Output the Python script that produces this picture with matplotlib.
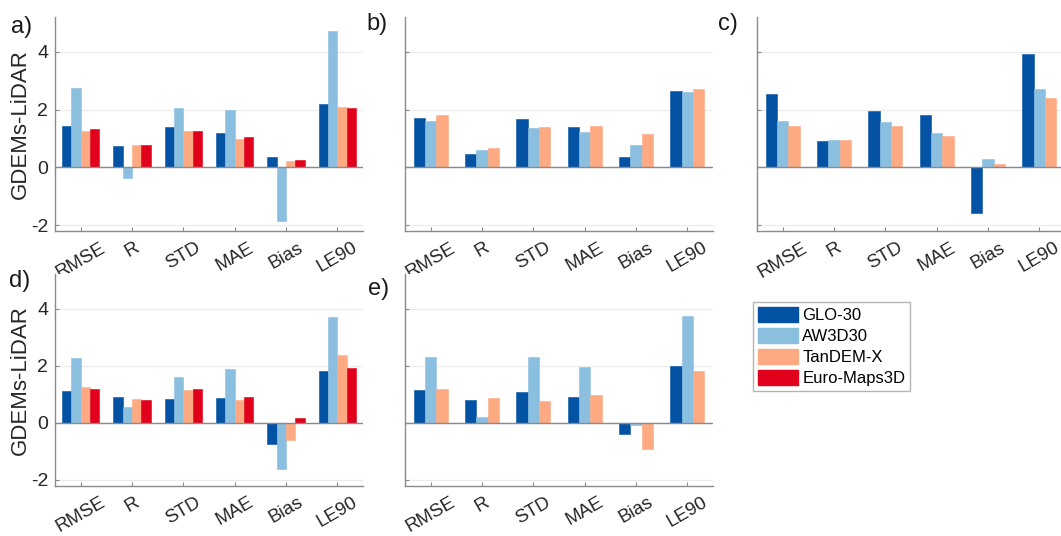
import numpy as np
import matplotlib
matplotlib.use("Agg")
import matplotlib.pyplot as plt
from matplotlib.patches import Patch

plt.rcParams['font.family'] = ['Liberation Sans', 'DejaVu Sans']
plt.rcParams['axes.unicode_minus'] = False

metrics = ["RMSE", "R", "STD", "MAE", "Bias", "LE90"]
dems = ["GLO-30", "AW3D30", "TanDEM-X", "Euro-Maps3D"]
colors = ["#0352a3", "#8bbfe0", "#fdaa82", "#e1001c"]

# panel a) - four DEMs
a_glo = [1.45, 0.73, 1.39, 1.18, 0.35, 2.21]
a_aw = [2.75, -0.35, 2.05, 2.00, -1.85, 4.71]
a_tdx = [1.27, 0.78, 1.25, 0.98, 0.23, 2.10]
a_eu = [1.32, 0.78, 1.27, 1.06, 0.25, 2.06]

# panel b)
b_glo = [1.71, 0.46, 1.68, 1.39, 0.36, 2.65]
b_aw = [1.59, 0.61, 1.38, 1.24, 0.78, 2.62]
b_tdx = [1.83, 0.66, 1.41, 1.42, 1.16, 2.73]

# panel c)
c_glo = [2.54, 0.92, 1.97, 1.82, -1.59, 3.91]
c_aw = [1.59, 0.96, 1.57, 1.18, 0.29, 2.73]
c_tdx = [1.44, 0.96, 1.44, 1.10, 0.12, 2.40]

# panel d)
d_glo = [1.11, 0.89, 0.84, 0.88, -0.73, 1.80]
d_aw = [2.27, 0.54, 1.61, 1.88, -1.61, 3.71]
d_tdx = [1.27, 0.85, 1.15, 0.81, -0.59, 2.37]
d_eu = [1.19, 0.80, 1.18, 0.92, 0.17, 1.92]

# panel e)
e_glo = [1.14, 0.80, 1.08, 0.90, -0.39, 1.99]
e_aw = [2.32, 0.22, 2.32, 1.94, -0.06, 3.75]
e_tdx = [1.19, 0.88, 0.78, 0.97, -0.90, 1.82]

panels = [
    ("a)", [a_glo, a_aw, a_tdx, a_eu]),
    ("b)", [b_glo, b_aw, b_tdx]),
    ("c)", [c_glo, c_aw, c_tdx]),
    ("d)", [d_glo, d_aw, d_tdx, d_eu]),
    ("e)", [e_glo, e_aw, e_tdx]),
]

fig = plt.figure(figsize=(10.61, 5.36), dpi=100)

w = 0.2903
lefts = [0.0518, 0.3817, 0.7135]
rows = [(0.569, 0.399), (0.094, 0.394)]
positions = [
    (lefts[0], rows[0][0]), (lefts[1], rows[0][0]), (lefts[2], rows[0][0]),
    (lefts[0], rows[1][0]), (lefts[1], rows[1][0]),
]
heights = [rows[0][1]] * 3 + [rows[1][1]] * 2
label_x = [-0.075, -0.055, -0.062, -0.08, -0.05]
label_y = [1.005, 1.02, 1.02, 1.02, 0.985]

axis_grey = "#8a8a8a"
x = np.arange(1, len(metrics) + 1)

for i, (label, series) in enumerate(panels):
    ax = fig.add_axes([positions[i][0], positions[i][1], w, heights[i]])
    n = len(series)
    gw = min(0.8, n / (n + 1.5))
    bw = gw / n
    for j, vals in enumerate(series):
        off = -gw / 2 + bw * (j + 0.5)
        ax.bar(x + off, vals, width=bw, color=colors[j], edgecolor=colors[j],
               linewidth=0.4, zorder=3)
    ax.axhline(0, color=axis_grey, lw=1.0, zorder=4)
    ax.set_xlim(0.5, 6.5)
    ax.set_ylim(-2.2, 5.2)
    ax.set_yticks([-2, 0, 2, 4])
    ax.yaxis.grid(True, color="#ebebeb", lw=0.9, zorder=0)
    ax.set_xticks(x)
    ax.set_xticklabels(metrics, rotation=30, ha="center", fontsize=13.5,
                       color="#262626")
    ax.tick_params(direction="in", length=3, color=axis_grey, width=0.8)
    ax.tick_params(axis="x", pad=6)
    for s in ["top", "right"]:
        ax.spines[s].set_visible(False)
    for s in ["left", "bottom"]:
        ax.spines[s].set_color(axis_grey)
        ax.spines[s].set_linewidth(1.0)
    if i in (0, 3):
        ax.tick_params(axis="y", labelsize=14, labelcolor="#262626", pad=5)
        ax.set_ylabel("GDEMs-LiDAR", fontsize=16, color="#262626", labelpad=0)
    else:
        ax.set_yticklabels([])
    ax.text(label_x[i], label_y[i], label, transform=ax.transAxes,
            ha="right", va="top", fontsize=17, color="#1a1a1a")

handles = [Patch(facecolor=c, edgecolor=c) for c in colors]
fig.legend(handles, dems, loc="upper left", bbox_to_anchor=(0.7097, 0.437),
           fontsize=12, frameon=True, fancybox=False, edgecolor="#a0a0a0",
           handlelength=2.4, handleheight=1.0, handletextpad=0.25,
           labelspacing=0.3, borderpad=0.3, borderaxespad=0)

fig.savefig("out.png", dpi=100)
